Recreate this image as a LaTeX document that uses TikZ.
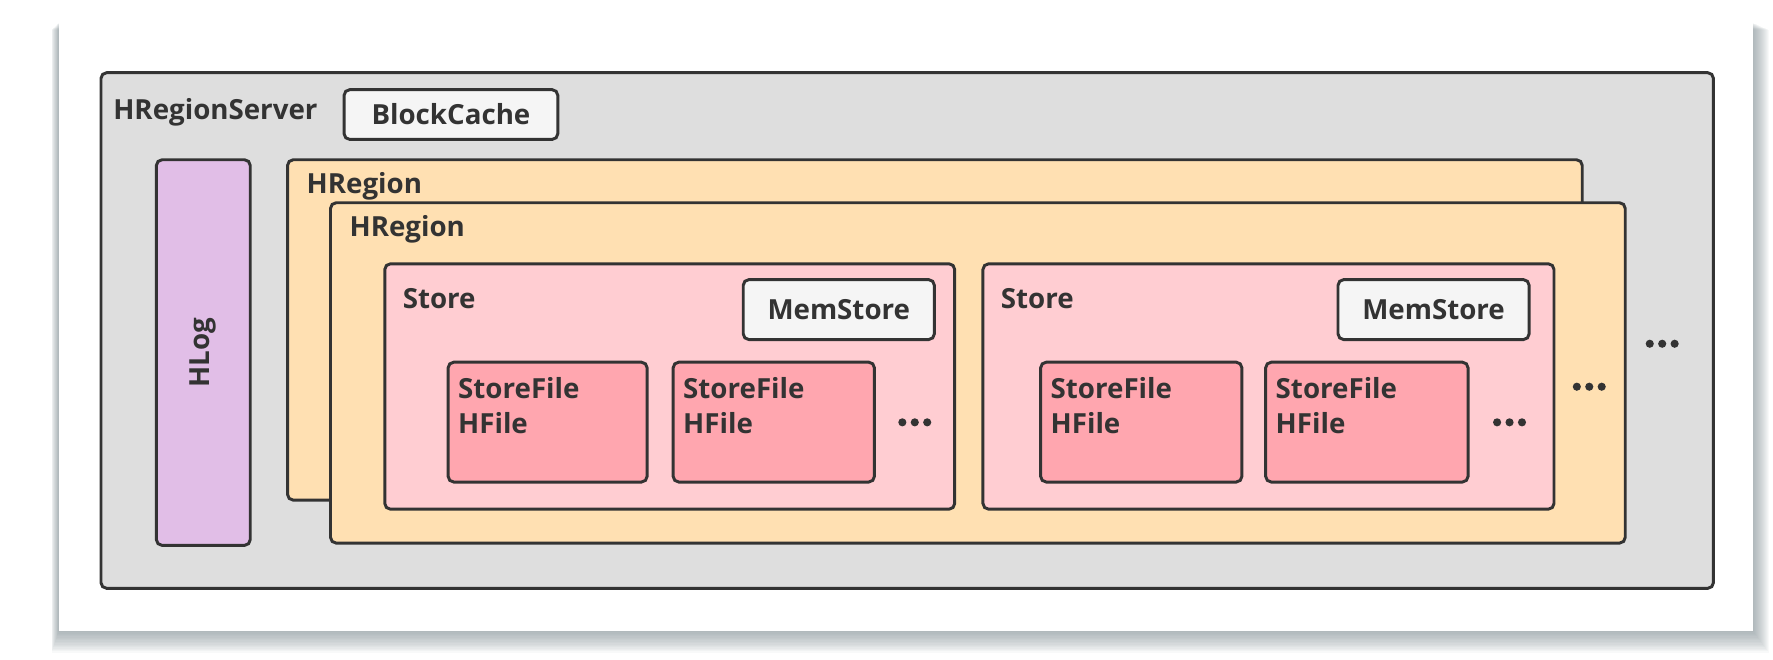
\documentclass[tikz,border=0pt]{standalone}
\usepackage{fontspec}
\setmainfont{Open Sans}
\usetikzlibrary{positioning}
\definecolor{edgegray}{HTML}{333333}
\definecolor{textgray}{HTML}{333333}
\definecolor{shadowgray}{HTML}{7F8E92}
\definecolor{serverfill}{HTML}{DEDEDE}
\definecolor{cachefill}{HTML}{F5F5F5}
\definecolor{hlogfill}{HTML}{E1BEE7}
\definecolor{regionfill}{HTML}{FFE0B2}
\definecolor{storefill}{HTML}{FFCDD2}
\definecolor{filefill}{HTML}{FFA6AF}

\begin{document}
\begin{tikzpicture}[
    x=1pt, y=-1pt,
    box/.style={draw=edgegray, line width=2.6pt, rounded corners=5pt, anchor=north west, inner sep=0pt},
    lbl/.style={font=\fontsize{24.5}{30.4}\selectfont\bfseries, text=textgray, inner sep=0pt},
    tag/.style={lbl, anchor=base west},
    dot/.style={fill=textgray}
]
\useasboundingbox (0,0) rectangle (1568,583);
\fill[white] (0,0) rectangle (1568,583);

% panel with soft shadow
\foreach \s in {1,...,16}
    \fill[shadowgray, opacity=0.05] (52-0.4*\s, 20+0.4*\s) rectangle (1550+0.9*\s, 558+1.2*\s);
\fill[white] (52,20) rectangle (1550,558);

% region server
\node[box, fill=serverfill, minimum width=1426pt, minimum height=456pt] (server) at (88,63) {};
\node[tag] (serverlbl) at ([shift={(12,43)}]server.north west) {HRegionServer};
\node[box, fill=cachefill, minimum width=189pt, minimum height=44pt] (cache) at (303,78) {};
\node[lbl] at (cache.center) {BlockCache};

% write-ahead log
\node[box, fill=hlogfill, minimum width=83pt, minimum height=341pt] (hlog) at (137,140) {};
\node[lbl, rotate=90] at (hlog.center) {HLog};

% regions
\node[box, fill=regionfill, minimum width=1145pt, minimum height=301pt] (regionA) at (253,140) {};
\node[tag] at ([shift={(18,31)}]regionA.north west) {HRegion};
\node[box, fill=regionfill, minimum width=1145pt, minimum height=301pt] (regionB) at (291,178) {};
\node[tag] at ([shift={(18,31)}]regionB.north west) {HRegion};

% first store
\node[box, fill=storefill, minimum width=504pt, minimum height=217pt] (storeA) at (339,232) {};
\node[tag] at ([shift={(17,41)}]storeA.north west) {Store};
\node[box, fill=cachefill, minimum width=169pt, minimum height=53pt] (memA) at (656,246) {};
\node[lbl] at (memA.center) {MemStore};
\node[box, fill=filefill, minimum width=176pt, minimum height=106pt] (fileA1) at (395,319) {};
\node[tag, align=left] at ([shift={(10,64)}]fileA1.north west) {StoreFile\\HFile};
\node[box, fill=filefill, minimum width=178pt, minimum height=106pt] (fileA2) at (594,319) {};
\node[tag, align=left] at ([shift={(10,64)}]fileA2.north west) {StoreFile\\HFile};
\coordinate (moreA) at (809,373.5);

% second store
\node[box, fill=storefill, minimum width=505pt, minimum height=217pt] (storeB) at (868,232) {};
\node[tag] at ([shift={(17,41)}]storeB.north west) {Store};
\node[box, fill=cachefill, minimum width=169pt, minimum height=53pt] (memB) at (1182,246) {};
\node[lbl] at (memB.center) {MemStore};
\node[box, fill=filefill, minimum width=178pt, minimum height=106pt] (fileB1) at (919,319) {};
\node[tag, align=left] at ([shift={(10,64)}]fileB1.north west) {StoreFile\\HFile};
\node[box, fill=filefill, minimum width=179pt, minimum height=106pt] (fileB2) at (1118,319) {};
\node[tag, align=left] at ([shift={(10,64)}]fileB2.north west) {StoreFile\\HFile};
\coordinate (moreB) at (1335,373.5);

% further stores and regions
\coordinate (moreStores) at (1405.5,342);
\coordinate (moreRegions) at (1470,304);

\foreach \m in {moreA, moreB, moreStores, moreRegions}
    \foreach \d in {-11,0,11}
        \fill[dot] ([shift={(\d,0)}]\m) circle (3.6);
\end{tikzpicture}
\end{document}
